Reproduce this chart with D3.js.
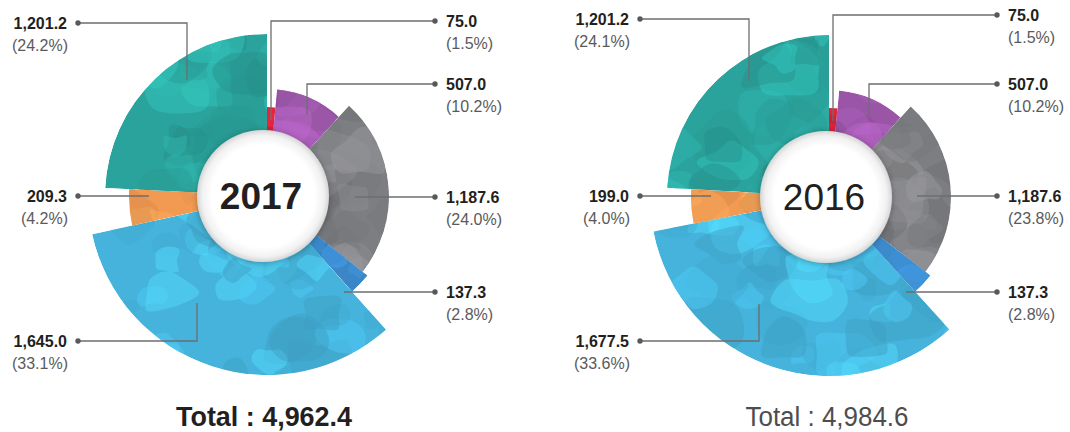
<!DOCTYPE html>
<html>
<head>
<meta charset="utf-8">
<script src="https://cdn.jsdelivr.net/npm/d3@7/dist/d3.min.js"></script>
<style>
  html, body { margin: 0; padding: 0; background: #fff; }
  svg { display: block; }
</style>
</head>
<body>
<svg id="chart" width="1070" height="432"></svg>
<script>
// ---------------- DATA ----------------
const categories = ["Red", "Purple", "Gray", "Blue", "Sky", "Orange", "Teal"];
const values2017 = [75.0, 507.0, 1187.6, 137.3, 1645.0, 209.3, 1201.2];
const shares2017 = [1.5, 10.2, 24.0, 2.8, 33.1, 4.2, 24.2];
const values2016 = [75.0, 507.0, 1187.6, 137.3, 1677.5, 199.0, 1201.2];
const shares2016 = [1.5, 10.2, 23.8, 2.8, 33.6, 4.0, 24.1];
const years = ["2017", "2016"];
const totals = [4962.4, 4984.6];

// ---------------- STYLE / LAYOUT ----------------
const colors = ["#cf2137", "#9a55a6", "#7d7e81", "#3a86c6", "#45b3db", "#f39a52", "#2aa39c"];
const outerRadii = [89, 107, 122, 128, 179, 138, 162];
// leader anchors (offset from pie centre) and label rows
const anchors = [[4, -76], [40, -81], [88, 0], [77, 96], [-70, 107], [-118, 0], [-80, -116]];
const labelSide = [1, 1, 1, 1, -1, -1, -1];
const charts = [
  { cx: 267, cy: 196, ccx: 263, bold: true, labelY: [21, 84, 197, 292, 341, 196, 23], textLen: 176 },
  { cx: 829, cy: 197, ccx: 826, bold: false, labelY: [15, 84, 196, 292, 341, 196, 19], textLen: 163 }
];
const datasets = [
  { values: values2017, shares: shares2017 },
  { values: values2016, shares: shares2016 }
];
const fmt = d3.format(",.1f");
const FONT = "'Liberation Sans', Arial, Helvetica, sans-serif";

const svg = d3.select("#chart");
const defs = svg.append("defs");

// centre disc gradient & shadow
const rg = defs.append("radialGradient").attr("id", "disc");
rg.append("stop").attr("offset", "0%").attr("stop-color", "#ffffff");
rg.append("stop").attr("offset", "78%").attr("stop-color", "#ffffff");
rg.append("stop").attr("offset", "92%").attr("stop-color", "#f1f1f1");
rg.append("stop").attr("offset", "100%").attr("stop-color", "#d6d6d6");
const f = defs.append("filter").attr("id", "shadow").attr("x", "-30%").attr("y", "-30%").attr("width", "160%").attr("height", "160%");
f.append("feDropShadow").attr("dx", 0).attr("dy", 1).attr("stdDeviation", 3).attr("flood-color", "#000").attr("flood-opacity", 0.3);

// deterministic texture noise (decoration only)
function lcg(seed) {
  let s = seed >>> 0;
  return () => { s = (s * 1664525 + 1013904223) >>> 0; return s / 4294967296; };
}
const blobLine = d3.line().curve(d3.curveCatmullRomClosed.alpha(0.5));

const pie = d3.pie().sort(null).value(d => d.value);

charts.forEach((c, ci) => {
  const ds = datasets[ci];
  const rows = categories.map((cat, i) => ({ cat, i, value: ds.values[i], share: ds.shares[i] }));
  const arcs = pie(rows);
  const g = svg.append("g").attr("transform", `translate(${c.cx},${c.cy})`);

  arcs.forEach((a, i) => {
    const arcGen = d3.arc().innerRadius(30).outerRadius(outerRadii[i]);
    const id = `clip-${ci}-${i}`;
    defs.append("clipPath").attr("id", id).append("path").attr("d", arcGen(a));
    const sg = g.append("g").attr("clip-path", `url(#${id})`);
    sg.append("path").attr("d", arcGen(a)).attr("fill", colors[i]);
    // camouflage texture
    const rnd = lcg(1000 * ci + 37 * i + 11);
    const base = d3.color(colors[i]);
    const shades = [base.darker(0.35), base.brighter(0.35), base.darker(0.15), base.brighter(0.6)];
    const span = a.endAngle - a.startAngle;
    const n = Math.max(6, Math.round(span * outerRadii[i] / 9));
    for (let k = 0; k < n; k++) {
      const ang = a.startAngle - 0.1 + rnd() * (span + 0.2);
      const rr = 50 + rnd() * (outerRadii[i] - 40);
      const bx = Math.sin(ang) * rr, by = -Math.cos(ang) * rr;
      const size = 10 + rnd() * 22;
      const pts = d3.range(8).map(j => {
        const t = j / 8 * Math.PI * 2;
        const rad = size * (0.55 + rnd() * 0.6);
        return [bx + Math.cos(t) * rad * 1.2, by + Math.sin(t) * rad];
      });
      sg.append("path").attr("d", blobLine(pts))
        .attr("fill", shades[k % shades.length].formatHex())
        .attr("opacity", 0.45);
    }
  });

  // leader lines & labels
  arcs.forEach((a, i) => {
    const [ax, ay] = anchors[i];
    const ly = c.labelY[i] - c.cy;
    const side = labelSide[i];
    const dotX = side > 0 ? 168 : -189;
    const txtX = side > 0 ? 179 : -200;
    let pts;
    if (Math.abs(ay - ly) < 4) pts = [[dotX, ly], [ax, ly]];
    else pts = [[dotX, ly], [ax, ly], [ax, ay]];
    g.append("path").attr("d", d3.line()(pts))
      .attr("fill", "none").attr("stroke", "#6d6e71").attr("stroke-width", 1.3);
    g.append("circle").attr("cx", dotX).attr("cy", ly).attr("r", 2.7).attr("fill", "#58595b");
    g.append("text").attr("x", txtX).attr("y", ly + 6)
      .attr("text-anchor", side > 0 ? "start" : "end")
      .attr("font-family", FONT).attr("font-size", 16).attr("font-weight", "bold")
      .attr("fill", "#231f20").text(fmt(a.data.value));
    g.append("text").attr("x", txtX + (side > 0 ? 0 : 1)).attr("y", ly + 28)
      .attr("text-anchor", side > 0 ? "start" : "end")
      .attr("font-family", FONT).attr("font-size", 16)
      .attr("fill", "#5a5a5c").text(`(${a.data.share.toFixed(1)}%)`);
  });

  // centre disc
  svg.append("circle").attr("cx", c.ccx).attr("cy", c.cy).attr("r", 66)
    .attr("fill", "url(#disc)").attr("filter", "url(#shadow)");
  svg.append("text").attr("x", c.ccx - 2).attr("y", c.cy + 13)
    .attr("text-anchor", "middle").attr("font-family", FONT)
    .attr("font-size", 37).attr("font-weight", c.bold ? "bold" : "normal")
    .attr("fill", "#231f20").text(years[ci]);

  // total
  svg.append("text").attr("x", c.ccx + 1).attr("y", 426)
    .attr("text-anchor", "middle").attr("font-family", FONT)
    .attr("font-size", 27).attr("font-weight", c.bold ? "bold" : "normal")
    .attr("fill", c.bold ? "#231f20" : "#4d4d4f")
    .attr("textLength", c.textLen).attr("lengthAdjust", "spacingAndGlyphs")
    .text(`Total : ${d3.format(",.1f")(totals[ci])}`);
});
</script>
</body>
</html>
